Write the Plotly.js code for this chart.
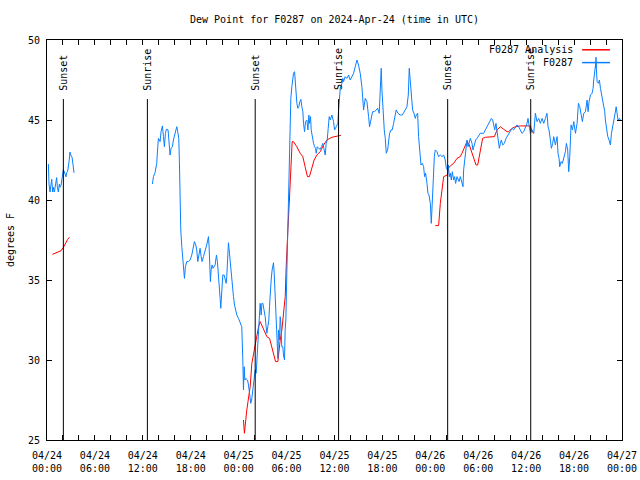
<!DOCTYPE html>
<html>
<head>
<meta charset="utf-8">
<script src="https://cdn.plot.ly/plotly-3.0.1.min.js"></script>
<style>html,body{margin:0;padding:0;background:#fff;}#chart{width:640px;height:480px;}</style>
</head>
<body>
<div id="chart"></div>
<script>
// Hours after 2024-04-24 00:00 UTC; null marks a gap in the record
const obsHours = [0.17,0.25,0.38,0.5,0.59,0.71,0.79,0.92,1.0,1.13,1.21,1.3,1.42,1.55,1.63,1.75,1.84,1.96,2.05,2.17,2.26,2.38,2.46,2.59,2.76,2.88,3.01,3.13,3.26,3.38,
  8.0,
  13.2,13.33,13.53,13.74,13.87,13.95,14.08,14.16,14.28,14.45,14.58,14.7,14.83,14.95,15.16,15.29,15.41,15.54,15.7,15.83,16.0,16.12,16.25,16.37,16.5,16.58,16.67,16.75,16.88,17.0,17.08,17.21,17.33,17.5,17.71,17.92,18.13,18.34,18.46,18.63,18.75,18.88,19.0,19.17,19.3,19.42,19.59,19.71,19.88,20.0,20.13,20.22,20.3,20.38,20.46,20.55,20.67,20.8,20.92,21.05,21.13,21.22,21.34,21.47,21.59,21.68,21.76,21.85,21.93,22.01,22.18,22.35,22.43,22.51,22.64,22.72,22.85,22.93,23.06,23.22,23.35,23.48,23.64,23.77,23.98,24.1,
  24.39,24.52,24.6,24.69,24.77,24.9,25.11,25.23,25.36,25.52,25.65,25.77,25.94,26.07,26.19,26.27,26.4,26.53,26.61,26.69,26.82,26.9,27.03,27.11,27.23,27.32,27.44,27.53,27.65,27.78,27.86,27.94,28.07,28.19,28.36,28.45,28.53,28.65,28.78,28.91,28.99,29.11,29.2,29.28,29.4,29.53,29.61,29.74,29.82,29.91,30.03,30.16,30.28,30.37,30.45,30.53,30.66,30.79,30.87,31.0,31.08,31.16,31.29,31.41,31.54,31.66,31.79,31.91,32.04,32.12,32.25,32.37,32.54,32.67,32.79,32.87,33.0,33.08,33.17,33.29,33.38,33.5,33.63,33.71,33.84,34.0,34.21,34.38,34.54,34.71,34.84,34.96,35.09,35.21,35.34,
  35.46,35.67,35.88,36.01,36.22,36.42,36.51,36.63,36.72,36.93,37.05,37.13,37.34,37.55,37.76,37.97,38.18,38.39,38.6,38.81,39.01,39.22,39.43,39.64,39.85,40.06,40.27,40.39,40.56,40.77,41.02,41.23,41.4,41.6,41.73,41.85,41.94,42.06,42.23,42.36,42.48,42.65,42.77,42.9,43.07,43.23,43.4,43.61,43.73,43.94,44.24,44.49,44.65,44.86,45.07,45.24,45.36,45.49,45.61,45.78,45.95,46.12,46.24,46.41,46.53,46.66,46.83,46.99,47.16,47.28,47.41,47.58,47.7,47.83,48.0,48.12,48.25,48.37,48.5,48.62,48.83,49.04,49.25,49.46,49.67,49.87,50.0,50.13,50.25,50.38,50.5,50.63,50.75,50.92,51.04,51.17,51.34,51.46,51.59,51.75,51.96,52.09,52.17,52.3,52.47,52.59,52.72,52.88,53.01,53.22,53.34,53.51,53.68,53.84,54.05,54.26,54.47,54.68,54.89,55.1,55.3,55.51,55.64,55.81,55.93,56.06,56.22,56.35,56.48,56.64,56.77,56.89,57.06,57.27,57.48,57.6,57.81,58.02,58.23,58.44,58.65,58.86,59.06,59.27,59.48,59.69,59.9,60.11,60.23,60.36,60.53,60.74,60.95,61.15,61.36,61.57,61.78,61.99,62.2,62.41,62.61,62.74,62.86,63.03,63.16,63.32,63.45,63.66,63.87,63.99,64.12,64.2,64.37,64.54,64.7,64.91,65.04,65.2,65.33,65.46,65.62,65.79,65.96,66.17,66.38,66.54,66.71,66.88,67.04,67.21,67.42,67.63,67.75,67.88,68.05,68.25,68.38,68.46,68.59,68.71,68.8,68.88,69.05,69.17,69.3,69.51,69.72,69.84,69.92,70.05,70.22,70.38,70.55,70.68,70.84,70.97,71.14,71.27,71.39,71.51,71.68,71.8];
const obsDewF = [42.25,41.0,40.5,41.0,41.3,40.5,40.8,40.5,40.8,41.15,41.4,40.8,40.5,41.0,40.8,40.9,41.3,41.7,41.9,41.75,41.55,41.45,41.7,41.8,42.4,43.0,42.75,42.7,42.2,41.7,
  null,
  41.0,41.46,41.71,42.29,43.33,43.85,43.75,43.65,44.27,44.63,43.96,43.33,44.17,44.42,44.38,43.23,42.81,43.23,43.33,43.75,44.06,44.38,44.58,44.27,43.85,42.4,39.9,38.13,37.08,36.25,35.63,35.1,35.83,36.15,36.15,36.25,36.56,37.19,37.4,37.19,36.88,36.15,36.46,36.98,36.46,36.15,36.46,36.67,36.88,37.19,37.5,37.71,37.08,36.25,34.9,35.63,35.94,35.73,35.83,35.94,36.25,36.56,36.15,35.42,34.58,33.85,33.23,34.17,34.69,35.31,35.31,35.0,34.79,35.21,36.67,37.33,36.67,36.15,35.42,34.58,33.96,33.44,33.02,32.81,32.6,32.46,
  32.08,30.0,28.13,29.58,28.75,28.85,28.75,28.44,27.92,27.29,27.6,28.23,28.75,29.38,29.17,30.0,31.25,32.08,33.33,33.54,32.81,33.54,33.54,33.33,33.02,32.71,32.08,31.67,32.08,32.5,33.33,34.27,35.0,35.63,36.08,35.42,34.58,32.71,31.25,30.1,31.88,31.25,32.71,32.29,30.83,30.83,30.31,30.0,31.88,32.5,35.42,38.33,41.25,42.5,44.58,46.35,47.08,47.5,47.92,48.02,47.29,46.67,46.04,45.73,45.83,46.15,46.29,45.83,45.52,44.79,44.27,44.9,45.0,44.38,45.31,44.79,45.21,44.38,44.06,43.96,43.54,43.33,43.23,42.92,43.33,43.23,43.17,43.33,43.54,43.13,42.81,43.54,43.75,44.48,45.21,
  45.0,45.31,44.9,44.38,44.58,44.79,45.63,46.56,46.98,47.29,47.6,47.4,47.71,47.6,47.81,47.5,47.71,47.92,48.33,48.75,48.44,47.92,47.08,45.63,46.35,46.15,45.21,44.58,45.0,45.52,45.52,45.63,45.73,45.42,47.5,48.23,46.88,45.42,44.38,43.85,42.92,43.13,43.75,44.17,44.38,44.38,44.79,45.21,45.63,45.42,45.31,45.31,45.42,45.63,45.83,46.56,48.23,47.29,46.46,45.63,45.42,45.1,45.31,45.42,43.96,43.33,42.19,42.29,42.08,41.46,41.67,41.04,40.42,40.31,39.79,38.54,39.58,41.25,42.71,43.13,43.02,42.71,42.81,42.71,42.81,42.5,41.98,41.88,42.19,41.46,41.67,41.25,41.77,41.25,41.46,41.04,41.46,41.35,41.15,41.46,41.04,40.83,41.88,42.5,43.54,43.75,43.33,43.65,43.85,43.54,43.13,43.44,43.75,43.85,44.06,44.17,44.17,44.17,44.38,44.58,44.69,44.9,45.1,45.0,44.58,44.38,44.79,44.17,43.54,43.23,43.54,43.75,43.44,43.54,43.85,43.96,44.17,44.38,44.48,44.38,44.58,44.69,44.58,44.38,44.17,44.27,44.48,44.79,45.1,44.69,44.17,44.38,44.17,45.42,44.9,45.1,44.79,45.1,44.79,45.1,45.42,44.58,44.38,43.75,43.23,43.54,43.96,43.44,43.96,42.92,42.6,42.08,42.4,42.29,42.6,43.02,43.54,43.13,41.77,42.71,44.69,44.38,44.9,44.17,44.79,46.04,45.83,45.42,44.9,45.42,45.52,46.25,45.52,46.15,46.56,46.67,46.98,47.5,48.33,48.54,48.13,47.4,47.29,47.5,46.98,46.46,45.83,45.52,45.0,44.38,43.96,43.75,43.44,44.17,44.58,44.79,45.42,45.83,45.52,44.98,45.1,45.0];

const anaHours = [0.67,1.21,1.75,2.05,2.34,2.59,2.8,
  12.0,
  24.6,24.72,25.02,25.23,25.44,25.65,25.86,26.07,26.28,26.49,26.69,26.9,27.11,27.32,27.53,27.87,28.16,28.37,28.62,28.91,29.03,29.2,29.41,29.62,29.83,29.95,30.03,30.16,30.33,30.44,30.57,30.7,30.86,31.28,31.7,32.03,32.32,32.61,32.86,33.16,33.45,33.79,34.12,34.21,34.63,35.05,35.67,36.51,36.8,
  42.0,
  48.62,49.04,49.25,49.46,49.67,50.13,50.25,50.5,50.92,51.34,51.75,51.96,52.3,52.59,52.88,53.22,53.51,53.72,53.93,54.14,54.35,54.55,54.89,55.51,56.02,56.35,56.77,57.18,57.6,57.81,58.23,58.65,59.27,60.53,60.74,60.95];
const anaDewF = [36.6,36.7,36.83,37.04,37.33,37.54,37.67,
  null,
  26.25,25.42,26.88,27.5,28.33,29.79,30.42,30.83,31.46,32.08,32.4,32.19,31.98,31.67,31.46,31.35,30.83,30.42,29.9,29.9,30.63,31.25,31.88,32.92,33.96,35.83,36.46,38.13,39.79,41.25,42.92,43.65,43.65,43.33,42.92,42.71,42.08,41.46,41.46,41.98,42.5,42.81,42.96,43.02,43.44,43.75,43.92,44.0,44.04,
  null,
  38.4,38.4,39.79,40.83,41.46,41.56,41.98,42.13,42.29,42.6,42.71,42.92,43.33,43.65,43.44,42.92,42.4,42.19,42.19,42.71,43.33,43.85,43.92,43.96,43.96,44.38,44.58,44.42,44.27,44.27,44.48,44.58,44.63,44.63,44.27,44.17];

const sunHours = [2.05, 12.57, 26.07, 36.51, 50.17, 60.57];
const sunLabels = ["Sunset", "Sunrise", "Sunset", "Sunrise", "Sunset", "Sunrise"];
const tickHours = [0,2,4,6,8,10,12,14,16,18,20,22,24,26,28,30,32,34,36,38,40,42,44,46,48,50,52,54,56,58,60,62,64,66,68,70,72];
const yTicks = [25, 30, 35, 40, 45, 50];
const seriesNames = ["F0287 Analysis", "F0287"];

const base = Date.UTC(2024, 3, 24, 0, 0, 0);
function toDate(h) {
  if (h === null) return null;
  return new Date(base + Math.round(h * 3600000)).toISOString().replace('T', ' ').slice(0, 19);
}
function tickLabel(h) {
  if (h % 6 !== 0) return '';
  const d = new Date(base + h * 3600000);
  const p = n => String(n).padStart(2, '0');
  return p(d.getUTCMonth() + 1) + '/' + p(d.getUTCDate()) + '<br>' + p(d.getUTCHours()) + ':' + p(d.getUTCMinutes());
}

const FONT = 'DejaVu Sans Mono, Liberation Mono, monospace';
const RED = '#ff0000', BLUE = '#0a80ff';

const traces = [
  {x: anaHours.map(toDate), y: anaDewF, type: 'scatter', mode: 'lines', name: seriesNames[0],
   line: {color: RED, width: 1}, connectgaps: false, showlegend: false},
  {x: obsHours.map(toDate), y: obsDewF, type: 'scatter', mode: 'lines', name: seriesNames[1],
   line: {color: BLUE, width: 1}, connectgaps: false, showlegend: false}
];

const shapes = sunHours.map(h => ({type: 'line', xref: 'x', yref: 'y', x0: toDate(h), x1: toDate(h), y0: 25, y1: 46.31,
  line: {color: '#000', width: 1}}));
const annotations = sunHours.map((h, i) => ({x: toDate(h), y: 46.72, xref: 'x', yref: 'y', text: sunLabels[i],
  textangle: -90, showarrow: false, xanchor: 'center', yanchor: 'bottom', font: {family: FONT, size: 10, color: '#000'}}));

// gnuplot-style key: text on the left, sample on the right
const keyRows = [{name: seriesNames[0], color: RED, y: 0.9755}, {name: seriesNames[1], color: BLUE, y: 0.9435}];
keyRows.forEach((r, i) => {
  annotations.push({x: 0.9175, y: r.y, xref: 'paper', yref: 'paper', text: r.name, showarrow: false,
    xanchor: 'right', yanchor: 'middle', font: {family: FONT, size: 10, color: '#000'}});
  shapes.push({type: 'line', xref: 'paper', yref: 'paper', x0: 0.9307, x1: 0.979, y0: r.y, y1: r.y,
    line: {color: r.color, width: 1.5}});
});
shapes.push({type: 'line', xref: 'paper', yref: 'paper', x0: 0.9548, x1: 0.9548, y0: 0.93, y1: 0.957,
  line: {color: BLUE, width: 1.5}});

const layout = {
  width: 640, height: 480,
  margin: {l: 47, r: 18, t: 40, b: 40, pad: 0},
  paper_bgcolor: '#fff', plot_bgcolor: '#fff',
  font: {family: FONT, size: 10, color: '#000'},
  title: {text: 'Dew Point for F0287 on 2024-Apr-24 (time in UTC)', x: 0.5, xref: 'paper', xanchor: 'center',
    y: 0.96, yref: 'container', yanchor: 'middle', font: {family: FONT, size: 10, color: '#000'}},
  showlegend: false,
  xaxis: {type: 'date', range: [toDate(0), toDate(72)], tickmode: 'array',
    tickvals: tickHours.map(toDate), ticktext: tickHours.map(tickLabel),
    ticks: 'inside', ticklen: 5, tickwidth: 1, tickcolor: '#000', showline: true, linecolor: '#000', linewidth: 1,
    mirror: 'allticks', showgrid: false, zeroline: false, tickangle: 0, ticklabelstandoff: 6,
    tickfont: {family: FONT, size: 10, color: '#000'}},
  yaxis: {range: [25, 50], tickmode: 'array', tickvals: yTicks, ticktext: yTicks.map(String),
    ticks: 'inside', ticklen: 5, tickwidth: 1, tickcolor: '#000', showline: true, linecolor: '#000', linewidth: 1,
    mirror: 'allticks', showgrid: false, zeroline: false, ticklabelstandoff: 4,
    tickfont: {family: FONT, size: 10, color: '#000'},
    title: {text: 'degrees F', standoff: 11, font: {family: FONT, size: 10, color: '#000'}}},
  shapes: shapes,
  annotations: annotations
};

Plotly.newPlot('chart', traces, layout, {displayModeBar: false, staticPlot: true});
</script>
</body>
</html>
